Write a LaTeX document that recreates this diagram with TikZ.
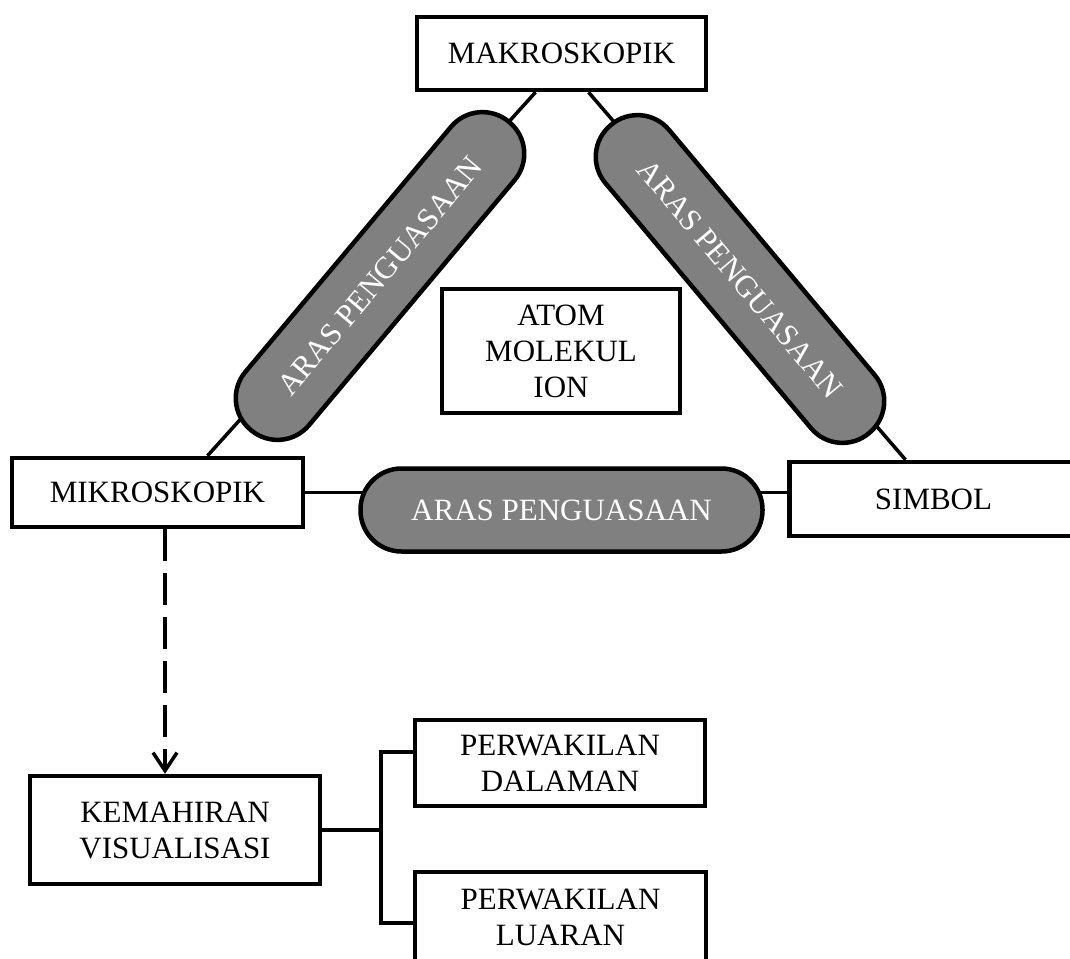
\documentclass[tikz,border=0pt]{standalone}
\usepackage{fontspec}
\setmainfont{Liberation Serif}
\usetikzlibrary{arrows.meta}

\begin{document}
\begin{tikzpicture}[x=1pt,y=1pt,
  box/.style={draw,line width=4.5pt,fill=white,align=center,inner sep=0pt,
    font=\fontsize{31}{36}\selectfont},
  level/.style={draw,line width=4.5pt,fill=gray,text=white,rounded corners=41pt,
    minimum width=402pt,minimum height=83pt,inner sep=0pt,font=\fontsize{31}{36}\selectfont},
  link/.style={line width=3.5pt}]
  \useasboundingbox (0,0) rectangle (1070,-958);
  % the three levels
  \node[box,minimum width=289pt,minimum height=73pt] (makro) at (561.5,-53.5) {MAKROSKOPIK};
  \node[box,minimum width=291pt,minimum height=69pt] (mikro) at (157.5,-492.5) {MIKROSKOPIK};
  \node[box,minimum width=288pt,minimum height=74pt] (simbol) at (933.5,-499) {SIMBOL};
  \node[box,minimum width=238pt,minimum height=124pt] (atom) at (561,-351) {ATOM\\MOLEKUL\\ION};
  % visualisation
  \node[box,minimum width=290pt,minimum height=108pt] (kemahiran) at (175,-830) {KEMAHIRAN\\VISUALISASI};
  \node[box,minimum width=290pt,minimum height=86pt] (dalaman) at (560,-763) {PERWAKILAN\\DALAMAN};
  \node[box,minimum width=291pt,minimum height=90pt] (luaran) at (560.5,-917) {PERWAKILAN\\LUARAN};
  \draw[link] ([xshift=-26pt]makro.south) -- ([xshift=50pt]mikro.north);
  \draw[link] ([xshift=27pt]makro.south) -- ([xshift=-28pt]simbol.north);
  \draw[link] (mikro.east) -- (mikro.east -| simbol.west);
  \node[level,rotate=50] (lvlleft) at (380,-276) {ARAS PENGUASAAN};
  \node[level,rotate=-50] (lvlright) at (740,-279) {ARAS PENGUASAAN};
  \node[level] (lvlbottom) at (561.5,-510) {ARAS PENGUASAAN};
  \draw[line width=4pt,dash pattern=on 32pt off 12pt,-{Straight Barb[length=18pt,width=24pt,line width=3.5pt]}]
    ([xshift=7.5pt]mikro.south) -- ([xshift=7.5pt]mikro.south |- kemahiran.north);
  \coordinate (fork) at (381,-830);
  \draw[link] (kemahiran.east) -- (fork);
  \draw[link] ([yshift=11pt]dalaman.west) -| (fork) |- ([yshift=-6pt]luaran.west);
\end{tikzpicture}
\end{document}
